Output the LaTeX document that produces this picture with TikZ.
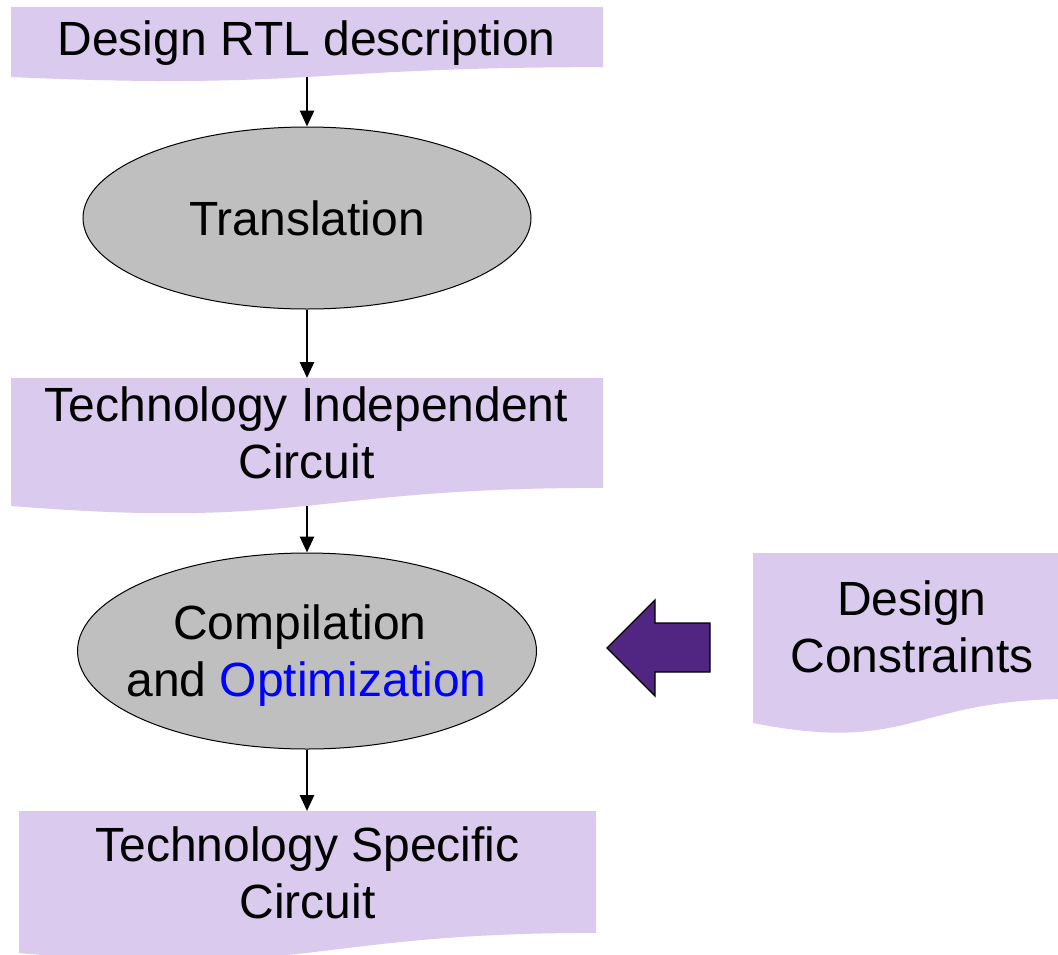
\documentclass[tikz,border=0pt]{standalone}
\usepackage{fontspec}
\setmainfont{Liberation Sans}
\usetikzlibrary{shapes.geometric,arrows.meta}
\definecolor{lav}{RGB}{218,202,238}
\definecolor{ellgray}{RGB}{191,191,191}
\definecolor{optblue}{RGB}{0,0,255}
\definecolor{bigpurple}{RGB}{81,38,131}
% document shape: left x, right x, top y, height
\newcommand{\docshape}[4]{%
  \fill[lav] (#1,#3) -- (#2,#3) -- (#2,{#3+0.802*#4})
    .. controls ({(#1+#2)/2},{#3+0.802*#4}) and ({(#1+#2)/2},{#3+1.107*#4})
    .. (#1,{#3+0.934*#4}) -- cycle;}
\begin{document}
\begin{tikzpicture}[x=1pt,y=-1pt,
  txt/.style={font=\fontsize{48}{57}\selectfont, align=center, inner sep=0pt},
  proc/.style={ellipse, draw=black, line width=1pt, fill=ellgray, inner sep=0pt},
  conn/.style={line width=2.7pt, -{Triangle[width=14pt,length=16pt]}},
  blockarrow/.style={fill=bigpurple, draw=black, line width=1.3pt, line join=miter}
]
\useasboundingbox (0,0) rectangle (1058,954);

% document boxes
\docshape{11}{603}{7}{75}
\docshape{11}{603}{378}{137}
\docshape{19}{596}{811}{152}
\docshape{753}{1071}{553}{182}

% texts in boxes
\node[txt, anchor=base] (t1) at (306.5,55) {Design RTL description};
\node[txt] (t2) at (306.5,433) {Technology Independent\\Circuit};
\node[txt] (t3) at (307.5,873) {Technology Specific\\Circuit};
\node[txt] (t4) at (912,626.8) {Design\\Constraints};

% process ellipses
\node[proc, minimum width=448, minimum height=182, txt] (e1) at (307,218) {Translation};
\node[proc, minimum width=459, minimum height=196] (e2) at (307,651) {};
\node[txt] (e2t) at (306.5,656) {Compilation\kern13pt\\and \textcolor{optblue}{Optimization}};

% connector end points on the document boxes
\coordinate (b1bot) at (307,77);
\coordinate (b2top) at (307,378);
\coordinate (b2bot) at (307,505.8);
\coordinate (b3top) at (307,811);

\draw[conn] (b1bot) -- (e1);
\draw[conn] (e1) -- (b2top);
\draw[conn] (b2bot) -- (e2);
\draw[conn] (e2) -- (b3top);

% block arrow from constraints
\draw[blockarrow] (710,623) -- (655,623) -- (655,600) -- (607,648) -- (655,696) -- (655,672) -- (710,672) -- cycle;
\end{tikzpicture}
\end{document}
